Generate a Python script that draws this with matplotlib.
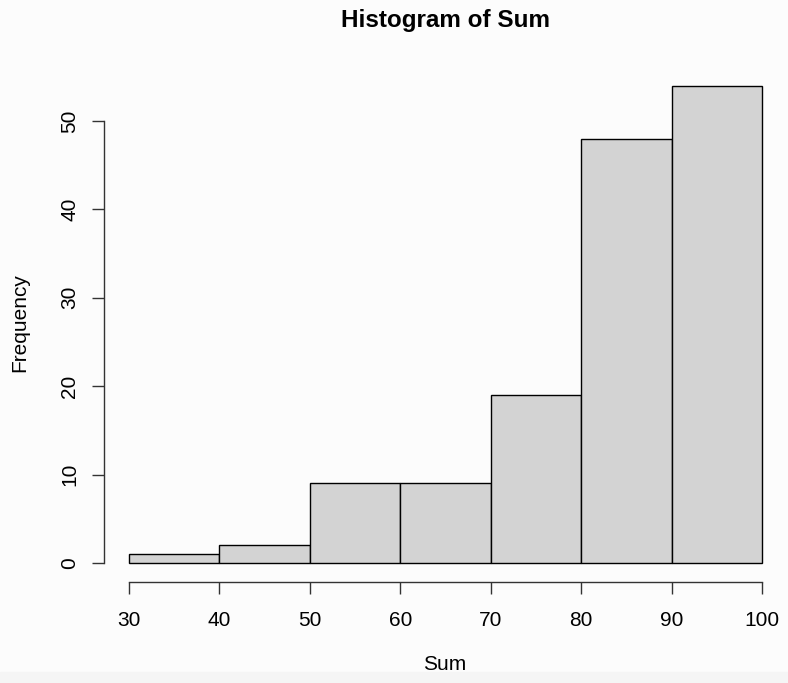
import numpy as np
import matplotlib.pyplot as plt

# --- Data ---
BIN_EDGES = [30, 40, 50, 60, 70, 80, 90, 100]
COUNTS = [1, 2, 9, 9, 19, 48, 54]
X_TICKS = [30, 40, 50, 60, 70, 80, 90, 100]
Y_TICKS = [0, 10, 20, 30, 40, 50]

plt.rcParams["font.family"] = ["Liberation Sans", "DejaVu Sans"]

W, H = 788, 683
fig = plt.figure(figsize=(W / 100, H / 100), dpi=100, facecolor="#fcfcfc")

# faint strip along the bottom edge
fig.add_artist(plt.Rectangle((0, 0), 1, 11 / H, transform=fig.transFigure,
                             color="#f5f5f5", zorder=0))

ax = fig.add_axes([103.7 / W, 1 - 582.1 / H, (787.3 - 103.7) / W, (582.1 - 66.5) / H])
ax.set_facecolor("none")

edges = np.array(BIN_EDGES)
counts = np.array(COUNTS)
ax.bar(edges[:-1], counts, width=np.diff(edges), align="edge",
       color="#d3d3d3", edgecolor="black", linewidth=1.0)

# R-style plot region: 4% extension beyond data range
xr = edges[-1] - edges[0]
ax.set_xlim(edges[0] - 0.04 * xr, edges[-1] + 0.04 * xr)
yr = counts.max()
ax.set_ylim(-0.04 * yr, yr * 1.04)

for s in ["top", "right"]:
    ax.spines[s].set_visible(False)
ax.spines["bottom"].set_bounds(X_TICKS[0], X_TICKS[-1])
ax.spines["left"].set_bounds(Y_TICKS[0], Y_TICKS[-1])
for s in ["bottom", "left"]:
    ax.spines[s].set_color("#333333")
    ax.spines[s].set_linewidth(1.0)

ax.set_xticks(X_TICKS)
ax.set_yticks(Y_TICKS)
ax.tick_params(axis="both", length=8.5, width=1.0, color="#333333",
               labelsize=15, labelcolor="black")
ax.tick_params(axis="x", pad=12)
ax.tick_params(axis="y", pad=9)
for lbl in ax.get_yticklabels():
    lbl.set_rotation(90)
    lbl.set_va("center")

fig.text(445 / W, 1 - 20 / H, "Histogram of Sum", ha="center", va="center",
         fontsize=17.5, fontweight="bold")
fig.text(445 / W, 1 - 664 / H, "Sum", ha="center", va="center", fontsize=15)
fig.text(20 / W, 1 - 323 / H, "Frequency", ha="center", va="center",
         rotation=90, fontsize=15)

fig.savefig("out.png", dpi=100, facecolor=fig.get_facecolor())
